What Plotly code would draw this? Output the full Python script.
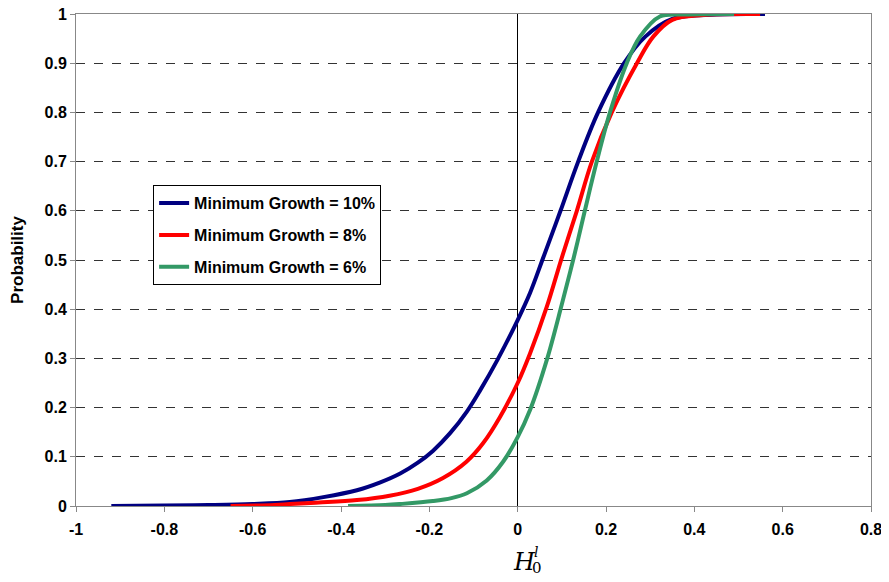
import plotly.graph_objects as go

# Series data
blue_x = [-0.92, -0.8, -0.7, -0.6, -0.516, -0.44, -0.364, -0.311, -0.266, -0.226, -0.192, -0.153, -0.115, -0.085, -0.047, 0.0, 0.028, 0.058, 0.097, 0.137, 0.182, 0.241, 0.289, 0.35, 0.45, 0.56]
blue_y = [0.0, 0.001, 0.002, 0.004, 0.008, 0.018, 0.032, 0.048, 0.066, 0.088, 0.112, 0.148, 0.192, 0.235, 0.295, 0.378, 0.433, 0.505, 0.6, 0.7, 0.8, 0.9, 0.954, 0.99, 0.999, 1.0]

red_x = [-0.65, -0.55, -0.516, -0.45, -0.364, -0.29, -0.226, -0.169, -0.116, -0.078, -0.04, 0.0, 0.028, 0.066, 0.1, 0.134, 0.168, 0.213, 0.27, 0.307, 0.35, 0.42, 0.549]
red_y = [0.0, 0.002, 0.004, 0.007, 0.012, 0.021, 0.035, 0.057, 0.09, 0.128, 0.181, 0.25, 0.31, 0.405, 0.505, 0.6, 0.7, 0.8, 0.9, 0.954, 0.988, 0.998, 1.0]

green_x = [-0.384, -0.3, -0.266, -0.192, -0.15, -0.115, -0.07, -0.033, 0.0, 0.028, 0.066, 0.1, 0.127, 0.152, 0.179, 0.209, 0.247, 0.277, 0.322, 0.38, 0.49]
green_y = [0.0, 0.002, 0.004, 0.01, 0.016, 0.026, 0.052, 0.09, 0.14, 0.195, 0.297, 0.41, 0.505, 0.6, 0.7, 0.8, 0.9, 0.954, 0.995, 0.999, 1.0]

series_names = ["Minimum Growth = 10%", "Minimum Growth = 8%", "Minimum Growth = 6%"]
series_colors = ["#000080", "#FF0000", "#339966"]

x_tickvals = [-1, -0.8, -0.6, -0.4, -0.2, 0, 0.2, 0.4, 0.6, 0.8]
x_ticktext = ["-1", "-0.8", "-0.6", "-0.4", "-0.2", "0", "0.2", "0.4", "0.6", "0.8"]
y_tickvals = [0, 0.1, 0.2, 0.3, 0.4, 0.5, 0.6, 0.7, 0.8, 0.9, 1]
y_ticktext = ["0", "0.1", "0.2", "0.3", "0.4", "0.5", "0.6", "0.7", "0.8", "0.9", "1"]

fig = go.Figure()
for i, (xs, ys, name, color) in enumerate(zip([blue_x, red_x, green_x], [blue_y, red_y, green_y], series_names, series_colors)):
    fig.add_trace(go.Scatter(x=xs, y=ys, mode="lines", name=name, legendgroup=f"g{i}",
                             line=dict(color=color, width=4, shape="spline", smoothing=1.0)))

tick_font = dict(family="Liberation Sans, Arial, sans-serif", size=16, color="black", weight="bold")

# The page body adds an 8px offset, so the figure is sized to fit the 889x582 window.
fig.update_layout(
    width=881, height=574,
    margin=dict(l=68, r=18, t=6, b=76),
    plot_bgcolor="white", paper_bgcolor="white",
    showlegend=True,
    legend=dict(x=0.097, y=0.652, xanchor="left", yanchor="top",
                bgcolor="white", bordercolor="black", borderwidth=1,
                font=dict(family="Liberation Sans, Arial, sans-serif", size=16, color="black", weight="bold"),
                tracegroupgap=8, itemwidth=30),
    xaxis=dict(range=[-1, 0.8], tickvals=x_tickvals, ticktext=x_ticktext, automargin=False,
               showgrid=False, zeroline=True, zerolinecolor="black", zerolinewidth=1,
               showline=True, linecolor="#888888", linewidth=1, mirror=True,
               ticks="outside", ticklen=5, tickcolor="#888888", ticklabelstandoff=4,
               ticklabeloverflow="allow", tickfont=tick_font),
    yaxis=dict(range=[0, 1], tickvals=y_tickvals, ticktext=y_ticktext, automargin=False,
               showgrid=True, gridcolor="#333333", griddash="dash", gridwidth=1,
               zeroline=True, zerolinecolor="black", zerolinewidth=1,
               showline=True, linecolor="#888888", linewidth=1, mirror=True,
               ticks="outside", ticklen=5, tickcolor="#888888",
               ticklabeloverflow="allow", tickfont=tick_font,
               title=dict(text="Probability", standoff=18,
                          font=dict(family="Liberation Sans, Arial, sans-serif", size=17, color="black", weight="bold"))),
)

# x-axis title H_0^l as stacked pieces
fig.add_annotation(x=0.0, y=-0.114, xref="x", yref="paper", text="<i>H</i>", showarrow=False,
                   xanchor="left", yanchor="middle", xshift=-7,
                   font=dict(family="DejaVu Serif, Liberation Serif, serif", size=24, color="black"))
fig.add_annotation(x=0.0, y=-0.114, xref="x", yref="paper", text="0", showarrow=False,
                   xanchor="left", yanchor="middle", xshift=12, yshift=-6,
                   font=dict(family="DejaVu Serif, Liberation Serif, serif", size=15, color="black"))
fig.add_annotation(x=0.0, y=-0.114, xref="x", yref="paper", text="<i>l</i>", showarrow=False,
                   xanchor="left", yanchor="middle", xshift=14, yshift=10,
                   font=dict(family="DejaVu Serif, Liberation Serif, serif", size=14, color="black"))

fig.write_html("out.html")
